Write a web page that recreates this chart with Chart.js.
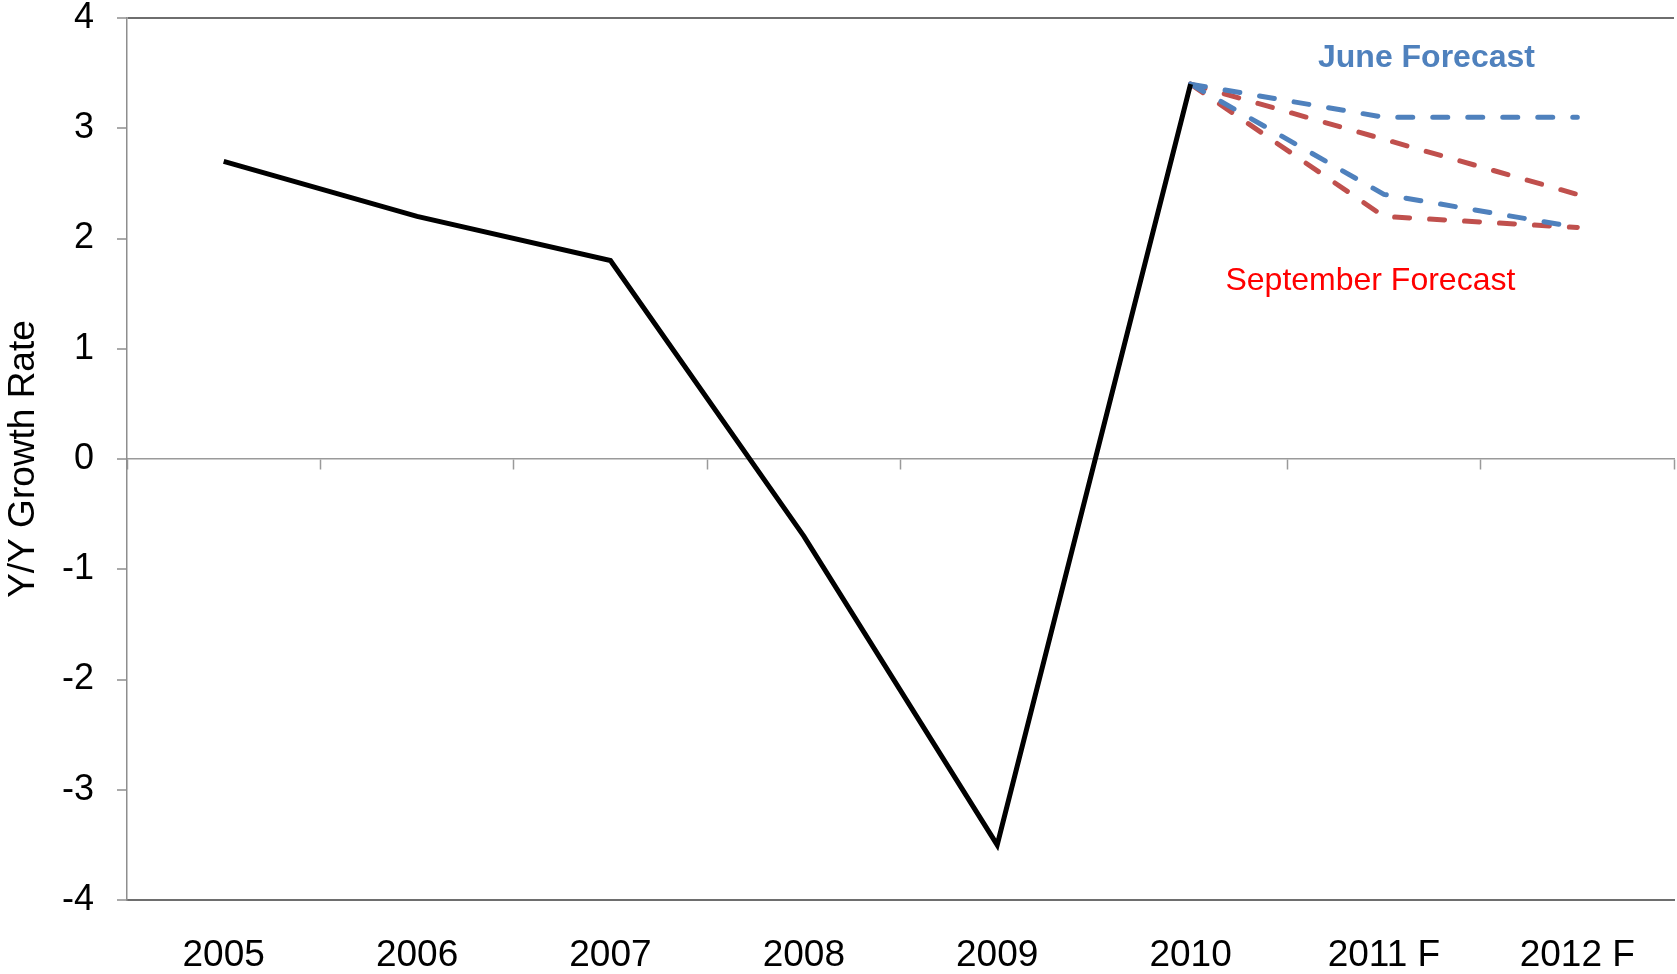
<!DOCTYPE html>
<html>
<head>
<meta charset="utf-8">
<script src="https://cdn.jsdelivr.net/npm/chart.js@4.4.1/dist/chart.umd.min.js"></script>
<style>
  html, body { margin: 0; padding: 0; background: #fff; }
  #wrap { width: 1677px; height: 974px; }
</style>
</head>
<body>
<div id="wrap"><canvas id="chart"></canvas></div>
<script>
// chart data
var years = ['2005', '2006', '2007', '2008', '2009', '2010', '2011 F', '2012 F'];
var actual = [2.7, 2.2, 1.8, -0.7, -3.5, 3.4, null, null];
var juneHigh = [null, null, null, null, null, 3.4, 3.1, 3.1];
var juneLow = [null, null, null, null, null, 3.4, 2.4, 2.1];
var septHigh = [null, null, null, null, null, 3.4, 2.9, 2.4];
var septLow = [null, null, null, null, null, 3.4, 2.2, 2.1];
var yTicks = [-4, -3, -2, -1, 0, 1, 2, 3, 4];

var FONT = '"Liberation Sans", Arial, sans-serif';
var FRAME = '#6e6e6e';
var AXIS = '#8e8e8e';
var BLUE = '#4f81bd';
var RED = '#c0504d';

// text labels placed in data coordinates
var notes = [
  { text: 'June Forecast', x: 6.22, y: 3.56, color: BLUE, font: 'bold 32px ' + FONT },
  { text: 'September Forecast', x: 5.93, y: 1.53, color: '#ff0000', font: '32px ' + FONT }
];

var notesPlugin = {
  id: 'notes',
  afterDatasetsDraw: function(chart) {
    var ctx = chart.ctx;
    ctx.save();
    ctx.textAlign = 'center';
    ctx.textBaseline = 'alphabetic';
    notes.forEach(function(n) {
      ctx.font = n.font;
      ctx.fillStyle = n.color;
      ctx.fillText(n.text, chart.scales.x.getPixelForValue(n.x), chart.scales.y.getPixelForValue(n.y));
    });
    ctx.restore();
  }
};

function forecast(data, color, order) {
  return {
    data: data,
    borderColor: color,
    borderWidth: 5,
    borderDash: [15, 20],
    borderCapStyle: 'round',
    pointRadius: 0,
    tension: 0,
    fill: false,
    order: order
  };
}

new Chart(document.getElementById('chart'), {
  type: 'line',
  data: {
    labels: years,
    datasets: [
      {
        data: actual,
        borderColor: '#000',
        borderWidth: 5,
        pointRadius: 0,
        tension: 0,
        fill: false,
        order: 0
      },
      forecast(juneHigh, BLUE, 1),
      forecast(juneLow, BLUE, 2),
      forecast(septHigh, RED, 3),
      forecast(septLow, RED, 4)
    ]
  },
  options: {
    responsive: true,
    maintainAspectRatio: false,
    animation: false,
    layout: { padding: { top: 18, right: 3, bottom: 0, left: 0 } },
    plugins: {
      legend: { display: false },
      tooltip: { enabled: false }
    },
    scales: {
      x: {
        type: 'category',
        position: 'bottom',
        offset: true,
        afterFit: function(axis) { axis.height = 74; },
        grid: {
          offset: true,
          drawTicks: false,
          color: function(c) { return c.index === years.length ? FRAME : 'transparent'; },
          lineWidth: 2
        },
        border: { display: true, color: FRAME, width: 2 },
        ticks: {
          padding: 34,
          color: '#000',
          maxRotation: 0,
          font: { family: FONT, size: 37 }
        }
      },
      // axis line through zero with the category tick marks
      zero: {
        type: 'category',
        axis: 'x',
        position: { y: 0 },
        offset: true,
        grid: {
          offset: true,
          drawOnChartArea: false,
          drawTicks: true,
          tickLength: 10,
          tickColor: '#9a9a9a',
          tickWidth: 1.5
        },
        border: { display: true, color: '#9a9a9a', width: 1.5 },
        ticks: { display: false }
      },
      y: {
        min: -4,
        max: 4,
        afterBuildTicks: function(axis) {
          axis.ticks = yTicks.map(function(v) { return { value: v }; });
        },
        afterFit: function(axis) {
          axis.width = 127;
          axis.paddingTop = 0;
          axis.paddingBottom = 0;
        },
        grid: {
          drawOnChartArea: true,
          drawTicks: true,
          tickLength: 10,
          color: function(c) { return c.tick && c.tick.value === 4 ? FRAME : 'transparent'; },
          lineWidth: 2,
          tickColor: AXIS,
          tickWidth: 1.5
        },
        border: { display: true, color: AXIS, width: 1.5 },
        ticks: {
          padding: 23,
          color: '#000',
          font: { family: FONT, size: 36, lineHeight: 1 }
        },
        title: {
          display: true,
          text: 'Y/Y Growth Rate',
          color: '#000',
          padding: { top: 5, bottom: 0 },
          font: { family: FONT, size: 37, lineHeight: 1 }
        }
      }
    }
  },
  plugins: [notesPlugin]
});
</script>
</body>
</html>
